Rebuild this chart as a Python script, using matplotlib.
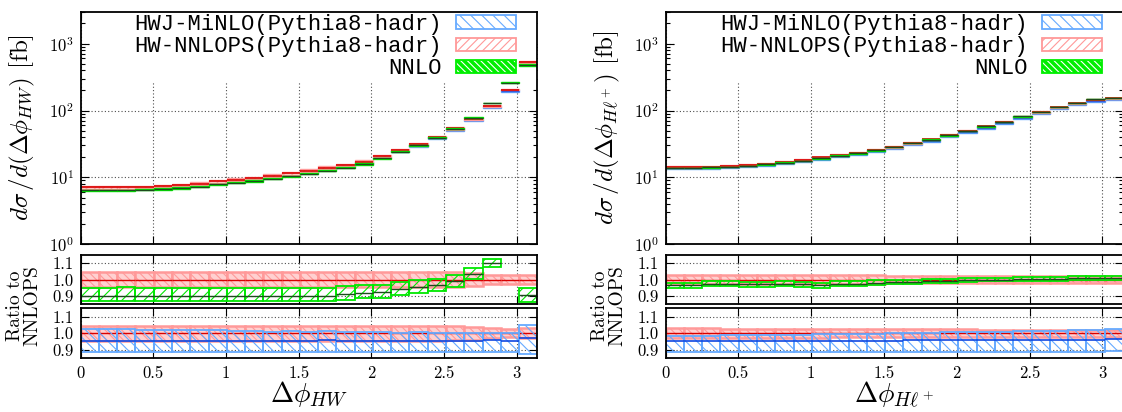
import numpy as np
import matplotlib
matplotlib.use("Agg")
from matplotlib import pyplot as plt
from matplotlib.patches import Patch, Rectangle
from matplotlib.legend_handler import HandlerTuple
from matplotlib.ticker import FuncFormatter, LogLocator, NullFormatter

plt.rcParams['font.family'] = 'cmr10'
plt.rcParams['mathtext.fontset'] = 'cm'
plt.rcParams['axes.formatter.use_mathtext'] = True
plt.rcParams['hatch.linewidth'] = 0.8

edges = np.linspace(0, np.pi, 26)

# ---- left: delta phi(H,W) ----
hw_nnlops = [7.11, 7.11, 7.11, 7.22, 7.44, 7.67, 8.07, 8.74, 9.24, 9.79, 10.6, 11.5, 12.6,
             14.0, 15.3, 17.2, 20.8, 25.7, 31.4, 40.4, 54.2, 75.0, 117, 205, 530]
hw_nnlops_err = [0.045, 0.045, 0.045, 0.045, 0.045, 0.045, 0.045, 0.045, 0.045, 0.045, 0.045,
                 0.045, 0.045, 0.045, 0.045, 0.045, 0.045, 0.045, 0.045, 0.045, 0.043, 0.04,
                 0.03, 0.025, 0.03]
hw_nnlo = [6.4, 6.4, 6.4, 6.5, 6.7, 6.9, 7.26, 7.87, 8.32, 8.81, 9.55, 10.35, 11.35, 12.6, 13.9,
           15.8, 19.2, 24.2, 30.0, 39.0, 53.7, 77.6, 129, 261, 480]
hw_nnlo_lo = [0.035, 0.035, 0.035, 0.035, 0.035, 0.035, 0.035, 0.035, 0.035, 0.035, 0.035, 0.035,
              0.035, 0.035, 0.035, 0.035, 0.04, 0.04, 0.043, 0.04, 0.038, 0.033, 0.023, 0.02, 0.045]
hw_nnlo_hi = [0.055, 0.055, 0.06, 0.055, 0.055, 0.055, 0.055, 0.055, 0.055, 0.055, 0.055, 0.055,
              0.055, 0.055, 0.055, 0.05, 0.045, 0.043, 0.043, 0.04, 0.038, 0.033, 0.023, 0.02, 0.045]
hw_minlo = [6.79, 6.79, 6.79, 6.90, 7.11, 7.32, 7.71, 8.35, 8.82, 9.35, 10.1, 11.0, 12.0, 13.4,
            14.6, 16.4, 19.9, 24.5, 30.0, 38.6, 51.8, 71.6, 112, 196, 514]
hw_minlo_lo = [0.07, 0.07, 0.07, 0.07, 0.07, 0.07, 0.07, 0.07, 0.07, 0.07, 0.07, 0.07, 0.07,
               0.07, 0.07, 0.07, 0.07, 0.07, 0.07, 0.07, 0.07, 0.07, 0.07, 0.07, 0.10]
hw_minlo_hi = [0.073, 0.073, 0.072, 0.07, 0.07, 0.068, 0.066, 0.065, 0.063, 0.062, 0.06, 0.06,
               0.058, 0.057, 0.056, 0.055, 0.054, 0.053, 0.052, 0.05, 0.05, 0.048, 0.047, 0.047, 0.085]

# ---- right: delta phi(H,l+) ----
hl_nnlops = [14.30, 14.40, 14.46, 14.77, 15.36, 16.08, 17.03, 18.25, 20.0, 21.64, 23.49, 25.92,
             28.63, 32.89, 37.07, 42.83, 50.15, 57.8, 67.9, 81.1, 95.0, 112.4, 128.7, 145.5, 152.5]
hl_nnlops_err = [0.03, 0.03, 0.03, 0.028, 0.028, 0.027, 0.027, 0.026, 0.026, 0.025, 0.025, 0.025,
                 0.024, 0.024, 0.024, 0.023, 0.023, 0.022, 0.022, 0.022, 0.021, 0.021, 0.02, 0.02, 0.02]
hl_nnlo = [13.8, 13.9, 14.1, 14.4, 14.9, 15.6, 16.6, 17.7, 19.3, 21.1, 22.9, 25.4, 28.2, 32.4,
           36.7, 42.4, 49.9, 57.8, 67.9, 81.5, 95.5, 113, 130, 147, 154]
hl_nnlo_err = [0.015, 0.015, 0.015, 0.015, 0.015, 0.015, 0.015, 0.015, 0.015, 0.015, 0.015, 0.015,
               0.014, 0.014, 0.014, 0.013, 0.013, 0.012, 0.012, 0.012, 0.012, 0.012, 0.012, 0.012, 0.012]
hl_minlo = [13.66, 13.75, 13.81, 14.11, 14.67, 15.36, 16.26, 17.43, 19.10, 20.67, 22.43, 24.75,
            27.34, 31.48, 35.48, 40.99, 47.99, 55.31, 64.98, 77.86, 91.2, 107.9, 123.6, 139.7, 147.2]
hl_minlo_lo = [0.068, 0.068, 0.068, 0.069, 0.069, 0.069, 0.07, 0.07, 0.07, 0.07, 0.071, 0.071,
               0.071, 0.072, 0.072, 0.072, 0.072, 0.073, 0.073, 0.073, 0.073, 0.074, 0.074, 0.074, 0.074]
hl_minlo_hi = [0.031, 0.032, 0.033, 0.034, 0.035, 0.036, 0.038, 0.039, 0.04, 0.042, 0.043, 0.045,
               0.046, 0.047, 0.049, 0.05, 0.052, 0.053, 0.055, 0.056, 0.058, 0.059, 0.061, 0.062, 0.064]

BLUE_EDGE, BLUE_FACE, BLUE_LINE = '#66aaff', '#b5d7ff', '#1048e0'
RED_EDGE, RED_FACE, RED_LINE = '#ff9999', '#ffd0d0', '#d80000'
GREEN_EDGE, GREEN_FACE, GREEN_LINE = '#00e800', '#22ee22', '#1d4a1d'

W, H = 1122, 412
fig = plt.figure(figsize=(W / 100, H / 100), dpi=100)


def px_axes(x0, y0, x1, y1):
    return fig.add_axes([x0 / W, 1 - y1 / H, (x1 - x0) / W, (y1 - y0) / H])


def bands(ax, lo, hi, face, edge, hatch, lw, z):
    ax.bar(edges[:-1], np.asarray(hi) - np.asarray(lo), bottom=lo, width=np.diff(edges), align='edge',
           facecolor=face, edgecolor=edge, hatch=hatch, linewidth=lw, zorder=z)


def centre(ax, vals, color, lw, z):
    ax.hlines(vals, edges[:-1], edges[1:], colors=color, linewidth=lw, zorder=z)


def style(ax, bottom_labels):
    ax.set_xlim(0, np.pi)
    ax.set_xticks([0, 0.5, 1, 1.5, 2, 2.5, 3])
    ax.xaxis.set_major_formatter(FuncFormatter(lambda v, p: f'{v:g}'))
    ax.set_axisbelow(True)
    ax.grid(True, which='major', ls=(0, (1, 2)), color='0.3', lw=0.8)
    ax.tick_params(which='both', direction='in', top=True, right=True, labelsize=12,
                   labelbottom=bottom_labels, width=0.8, pad=5)
    ax.tick_params(which='major', length=6)
    ax.tick_params(which='minor', length=3)
    for s in ax.spines.values():
        s.set_linewidth(1.3)


def panel(x0, x1, nnlops, nnlops_err, nnlo, nnlo_lo, nnlo_hi, minlo, minlo_lo, minlo_hi, sub):
    nnlops = np.asarray(nnlops)
    nnlo = np.asarray(nnlo)
    minlo = np.asarray(minlo)
    e_r = np.asarray(nnlops_err)
    nlo, nhi = np.asarray(nnlo_lo), np.asarray(nnlo_hi)
    mlo, mhi = np.asarray(minlo_lo), np.asarray(minlo_hi)

    top = px_axes(x0, 11.7, x1, 244.3)
    r1 = px_axes(x0, 255, x1, 304)
    r2 = px_axes(x0, 308.3, x1, 358.3)

    # main distribution
    top.set_yscale('log')
    top.set_ylim(1, 3000)
    bands(top, minlo * (1 - mlo * 0.5), minlo * (1 + mhi * 0.5), BLUE_FACE, BLUE_EDGE, '\\\\\\', 1.0, 1)
    centre(top, minlo, BLUE_LINE, 1.0, 1.2)
    bands(top, nnlops * (1 - e_r), nnlops * (1 + e_r), RED_FACE, RED_EDGE, '////', 1.0, 1.4)
    centre(top, nnlops, RED_LINE, 1.2, 1.5)
    bands(top, nnlo * (1 - nlo * 0.5), nnlo * (1 + nhi * 0.5), GREEN_FACE, GREEN_EDGE, None, 1.0, 1.6)
    centre(top, nnlo, GREEN_LINE, 1.0, 1.7)
    top.yaxis.set_major_locator(LogLocator(base=10, numticks=10))
    top.yaxis.set_minor_locator(LogLocator(base=10, subs=np.arange(2, 10), numticks=10))
    top.yaxis.set_minor_formatter(NullFormatter())
    style(top, False)
    top.set_ylabel(r'$d\sigma\,/d(\Delta\phi_{%s})$ [fb]' % sub, fontsize=18)
    top.yaxis.set_label_coords(-0.095, 0.5)
    top.add_patch(Rectangle((0.02, 0.693), 0.98, 0.307, transform=top.transAxes,
                            facecolor='white', edgecolor='none', zorder=0.8))

    h_minlo = Patch(facecolor='white', edgecolor=BLUE_EDGE, hatch='\\\\\\', linewidth=1.3)
    h_nnlops = Patch(facecolor='white', edgecolor=RED_EDGE, hatch='////', linewidth=1.3)
    h_nnlo = (Patch(facecolor='#00ee00', edgecolor='white', hatch='\\\\\\\\\\', linewidth=0),
              Patch(facecolor='none', edgecolor='#00ee00', linewidth=1.3))
    top.legend([h_minlo, h_nnlops, h_nnlo],
               ['HWJ-MiNLO(Pythia8-hadr)', 'HW-NNLOPS(Pythia8-hadr)', 'NNLO'],
               handler_map={tuple: HandlerTuple(ndivide=1, pad=0)},
               loc='upper right', bbox_to_anchor=(0.954, 0.99), frameon=False,
               markerfirst=False, borderpad=0, borderaxespad=0, labelspacing=0.05,
               handlelength=2.7, handleheight=0.55, handletextpad=0.65,
               prop={'family': 'Liberation Mono', 'size': 16})

    # ratios to NNLOPS
    for ax in (r1, r2):
        ax.set_ylim(0.85, 1.15)
        ax.set_yticks([0.9, 1.0, 1.1])
        ax.yaxis.set_major_formatter(FuncFormatter(lambda v, p: f'{v:.1f}'))
        bands(ax, 1 - e_r, 1 + e_r, RED_FACE, RED_EDGE, '\\\\\\\\', 1.8, 1)
        centre(ax, nnlops / nnlops, RED_LINE, 1.0, 1.5)
        style(ax, ax is r2)

    g = nnlo / nnlops
    bands(r1, g * (1 - nlo), g * (1 + nhi), 'none', GREEN_EDGE, '///', 1.3, 2)
    centre(r1, g, GREEN_LINE, 1.0, 2.2)
    b = minlo / nnlops
    bands(r2, b * (1 - mlo), b * (1 + mhi), 'none', BLUE_EDGE, '\\\\\\', 1.3, 2)
    centre(r2, b, BLUE_LINE, 1.2, 2.2)

    r2.set_xlabel(r'$\Delta\phi_{%s}$' % sub, fontsize=20)
    r2.xaxis.set_label_coords(0.5, -0.42)
    fig.text((x0 - 57) / W, 1 - 306 / H, 'Ratio to\nNNLOPS', rotation=90, ha='center',
             va='center', fontsize=14, linespacing=0.95)


panel(80.7, 537.3, hw_nnlops, hw_nnlops_err, hw_nnlo, hw_nnlo_lo, hw_nnlo_hi,
      hw_minlo, hw_minlo_lo, hw_minlo_hi, 'HW')
panel(665.5, 1123.0, hl_nnlops, hl_nnlops_err, hl_nnlo, hl_nnlo_err, hl_nnlo_err,
      hl_minlo, hl_minlo_lo, hl_minlo_hi, r'H\ell^+')

fig.savefig('out.png', dpi=100)
